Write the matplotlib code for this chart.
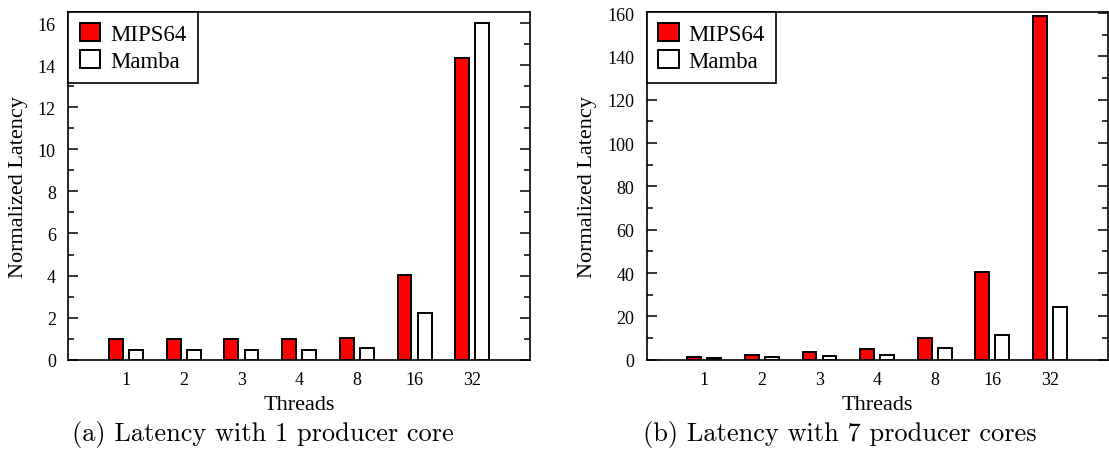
import numpy as np
import matplotlib
matplotlib.use("Agg")
import matplotlib.pyplot as plt
from matplotlib.ticker import MultipleLocator

plt.rcParams["font.family"] = ["Liberation Serif", "DejaVu Serif"]

threads = ["1", "2", "3", "4", "8", "16", "32"]
series = ["MIPS64", "Mamba"]

# panel (a): 1 producer core
mips_1p = [1.0, 1.0, 1.0, 1.0, 1.03, 4.03, 14.35]
mamba_1p = [0.46, 0.46, 0.48, 0.48, 0.54, 2.24, 16.0]

# panel (b): 7 producer cores
mips_7p = [1.2, 2.3, 3.7, 4.8, 10.2, 40.6, 158.6]
mamba_7p = [0.6, 1.2, 1.8, 2.3, 5.4, 11.5, 24.2]

captions = ["(a) Latency with 1 producer core", "(b) Latency with 7 producer cores"]

W, H = 1109, 456
fig = plt.figure(figsize=(W / 100, H / 100), dpi=100)


def panel(rect, mips, mamba, ymax, major, minor):
    ax = fig.add_axes(rect)
    x = np.arange(1, len(threads) + 1)
    w = 0.24
    ax.bar(x - 0.175, mips, w, color="#ff0000", edgecolor="black", lw=1.4,
           label=series[0], zorder=3)
    ax.bar(x + 0.175, mamba, w, color="white", edgecolor="black", lw=1.4,
           label=series[1], zorder=3)
    ax.set_xlim(0, 8)
    ax.set_ylim(0, ymax)
    ax.set_xticks(x)
    ax.set_xticklabels(threads)
    ax.yaxis.set_major_locator(MultipleLocator(major))
    ax.yaxis.set_minor_locator(MultipleLocator(minor))
    ax.tick_params(axis="x", length=0, labelsize=13, pad=8)
    ax.tick_params(axis="y", which="both", direction="in", right=True,
                   labelsize=13, pad=9, width=1.1)
    ax.tick_params(axis="y", which="major", length=7)
    ax.tick_params(axis="y", which="minor", length=4)
    for s in ax.spines.values():
        s.set_linewidth(1.2)
    ax.set_xlabel("Threads", fontsize=16, labelpad=5)
    ax.set_ylabel("Normalized Latency", fontsize=16, labelpad=7)
    leg = ax.legend(loc="upper left", bbox_to_anchor=(0, 1), borderaxespad=0,
                    fontsize=16.5, fancybox=False, framealpha=1,
                    edgecolor="black", handlelength=0.9, handleheight=0.85,
                    handletextpad=0.42, labelspacing=0.2, borderpad=0.5)
    leg.get_frame().set_linewidth(1.2)
    leg.set_zorder(5)
    return ax


ax1 = panel([68.3 / W, 1 - 360.7 / H, (530 - 68.3) / W, (360.7 - 12.7) / H],
            mips_1p, mamba_1p, 16.54, 2, 1)
ax2 = panel([646.7 / W, 1 - 360.7 / H, (1107.5 - 646.7) / W, (360.7 - 12.7) / H],
            mips_7p, mamba_7p, 160.6, 20, 10)

fig.text(263 / W, 1 - 435 / H, captions[0], family="cmr10", fontsize=19,
         ha="center", va="center")
fig.text(840 / W, 1 - 435 / H, captions[1], family="cmr10", fontsize=19,
         ha="center", va="center")

fig.savefig("out.png", dpi=100)
